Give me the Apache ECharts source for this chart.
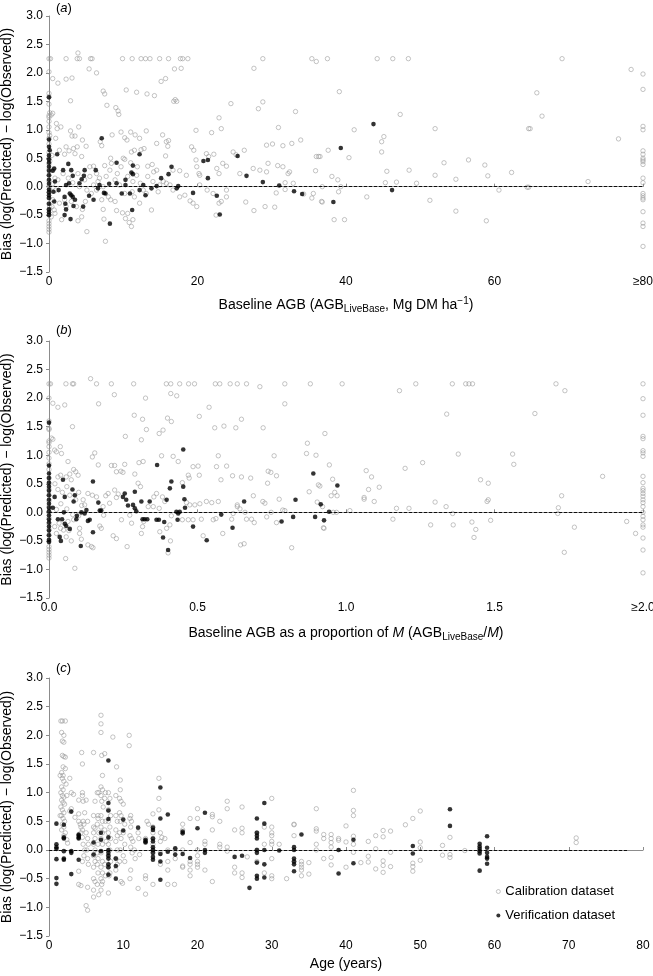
<!DOCTYPE html>
<html><head><meta charset="utf-8">
<script src="https://cdn.jsdelivr.net/npm/echarts@6/dist/echarts.min.js"></script>
<style>html,body{margin:0;padding:0;background:#fff}#c{width:653px;height:976px}</style>
</head><body><div id="c"></div>
<script>
// ---------- tick labels ----------
const yTicks = ['−1.5','−1.0','−0.5','0.0','0.5','1.0','1.5','2.0','2.5','3.0'];
const xTicksA = ['0','20','40','60','≥80'];
const xTicksB = ['0.0','0.5','1.0','1.5','≥2.0'];
const xTicksC = ['0','10','20','30','40','50','60','70','80'];
const seriesNames = ['Calibration dataset','Verification dataset'];

// ---------- (a) Bias vs baseline AGB ----------
const calA = [
[0,2.25],[0.2,2.25],[2.3,2.25],[3.8,2.25],[4.1,2.25],[5.6,2.25],[5.8,2.25],[9.9,2.25],[11.2,2.25],[12.4,2.25],[13,2.25],[13.6,2.25],[14.9,2.25],[16.1,2.25],[17.7,2.25],[18,2.25],[18.7,2.25],[28.8,2.25],[35.4,2.25],[37.5,2.25],[44.2,2.25],[46.3,2.25],[48.4,2.25],[69.1,2.25],
[3.9,2.35],[36,2.2],[0,2.02],[0.5,1.9],[1.2,1.82],[2.3,1.89],[3.1,1.91],[5.4,2.07],[6.4,2.0],[2.9,1.51],[0,1.64],[0,1.58],[7.3,1.68],[7.5,1.63],[7.8,1.43],[9.0,1.39],[9.3,1.33],[9.4,1.27],[10.4,1.70],[11.8,1.66],[13.2,1.63],[14.2,1.6],[15.1,1.85],[15.7,1.9],[16.9,2.07],[17.8,2.08],[16.8,1.5],[17.2,1.5],[17.0,1.53],[22.9,1.21],[24.5,1.46],[27.6,2.08],[28.2,1.37],[28.8,1.49],[33.2,1.32],
[39.1,1.67],[47.3,1.27],[41.1,1.0],[52.0,1.02],[64.6,1.02],[64.8,1.02],[65.7,1.65],[66.4,1.24],[78.4,2.06],[80,1.98],[80,1.71],[80,1.06],[80,1.0],[80,0.63],[80,0.57],[80,0.5],[80,0.47],[80,0.44],[80,0.39],[80,0.15],[80,0.07],[80,-0.12],[80,-0.16],[80,-0.2],[80,-0.23],[80,-0.44],[80,-0.64],[80,-0.7],[80,-1.05],
[37.6,0.64],[36.5,0.53],[40.4,0.51],[44.8,0.79],[45.1,0.88],[44.8,0.61],[45.5,0.27],[45.3,0.07],[46.8,0.08],[48.5,0.29],[49.5,0.06],[38.1,0.18],[38.9,0.12],[39.3,0.0],[39.0,-0.09],[36.8,0],[36.8,-0.27],[42.8,-0.18],[38.4,-0.58],[39.8,-0.58],[51.3,-0.24],[53.2,0.42],[52.0,0.2],[54.8,0.13],[54.8,-0.43],[56.5,0.47],[58.7,0.38],[59.1,0.19],[58.9,-0.6],[60.6,-0.06],[62.3,0.25],[64.4,-0.01],[64.6,-0.01],[72.6,0.09],[76.7,0.84],
[0,1.45],[0,1.25],[0,1.22],[0,1.15],[0,1.05],[0,0.95],[0,0.85],[0,0.75],[0,0.6],[0,0.5],[0,0.4],[0,0.3],[0,0.2],[0,0.1],[0,0.0],[0,-0.1],[0,-0.2],[0,-0.3],[0,-0.4],[0,-0.5],[0,-0.6],[0,-0.65],[0,-0.7],[0,-0.75],[0,-0.8],
[0.1,1.3],[0.1,0.9],[0.1,0.45],[0.1,-0.05],[0.1,-0.35],
[0.3,1.26],[0.5,1.29],[1.0,1.11],[1.1,1.02],[1.6,1.05],[0.9,0.85],[2.9,0.98],[3.1,0.89],[3.5,0.89],[4.0,1.05],[4.5,0.82],[3.8,0.7],[3.3,0.67],[2.3,0.7],[2.7,0.63],[2.1,0.57],[1.4,0.64],[3.5,0.58],[4.4,0.53],[5.0,0.71],[5.5,0.35],[6.0,0.36],[6.4,0.23],[6.8,0.15],[6.9,0.79],[7.1,0.72],[8.5,0.91],[9.7,0.96],[10.2,0.86],[10.5,0.82],[11.0,0.96],[11.6,0.91],[12.2,0.85],[12.4,0.65],[12.8,0.67],[13.1,0.98],[11.1,0.61],[11.5,0.64],[8.3,0.5],[8.4,0.41],[7.5,0.37],[10.0,0.5],[10.2,0.48],[11.0,0.42],[11.9,0.35],[13.3,0.36],[13.9,0.39],[14.1,0.26],[14.5,0.76],[15.3,0.91],[15.8,0.79],[16.0,0.71],[15.7,0.54],[16.1,0.81],[16.7,0.29],[17.6,0.28],[18.5,0.2],[19.8,0.99],[19.2,0.7],[19.5,0.64],[19.8,0.47],[19.9,0.35],[20.2,0.23],[20.3,0.2],[21.2,0.58],[21.5,0.53],[21.9,0.95],[22.2,0.57],[22.6,0.32],[22.9,0.23],[23.2,1.02],[23.4,0.41],[23.9,0.36],[24.8,0.61],[25.2,0.56],[25.7,0.23],[26.3,0.64],[27.5,0.32],[28.4,0.29],[29.3,0.26],[29.5,0.41],[29.3,0.73],[30.1,0.75],[30.9,1.04],[31.5,0.72],[32.7,0.76],[33.9,0.82],[30.8,0.37],[31.5,0.35],[32.2,0.23],[32.4,0.26],[31.8,0.07],[32.9,0.06],[36.0,0.53],[36.3,0.53],[35.9,0.28],
[1.7,-0.58],[0.8,-0.47],[1.4,-0.29],[2.3,-0.35],[2.1,-0.23],[3.0,-0.26],[3.7,-0.35],[3.9,-0.6],[4.4,-0.53],[4.5,-0.4],[4.9,-0.26],[5.1,-0.79],[5.7,-0.12],[6.4,-0.06],[7.1,-0.23],[7.3,-0.4],[8.0,-0.18],[8.3,-0.23],[8.9,-0.26],[9.1,-0.42],[9.9,-0.46],[10.3,-0.56],[10.6,-0.47],[10.8,-0.63],[11.1,-0.7],[11.3,-0.58],[7.6,-0.96],[7.4,-0.57],[8.9,0.12],[9.5,0.03],[10.2,-0.12],[11.2,-0.09],[11.5,-0.18],[12.2,-0.29],[12.7,-0.06],[13.1,-0.12],[13.8,-0.41],[14.7,-0.09],[14.9,0.03],[15.4,0.09],[16.7,-0.06],[17.6,-0.18],[18.3,-0.15],[19.0,-0.25],[19.4,-0.29],[19.9,-0.35],[20.3,0.03],[21.3,-0.06],[22.1,-0.12],[22.5,-0.5],[22.9,-0.29],[23.2,-0.26],[23.9,-0.06],[23.9,-0.18],[26.5,-0.27],[27.6,-0.42],[29.1,-0.35],[30.4,-0.36],[30.6,-0.11],[31.8,-0.05],[34.3,-0.13],[35.4,-0.2],[35.6,-0.12],[36.7,-0.26],
[1.2,0.12],[1.9,0.23],[2.6,0.15],[3.2,0.07],[3.9,0.23],[4.1,0.0],[4.8,0.12],[5.1,-0.06],[5.5,0.18],[6.0,0.03],[6.6,0.09],[7.3,0.0],[7.7,0.18],[8.2,0.29],[9.2,0.23],[9.7,0.35],[10.6,0.18],[11.3,0.09],[11.8,0.2],[12.3,0.06],[13.3,0.18],[14.0,0.09],[14.5,0.29],[15.8,0.06],[16.3,0.03],[0.9,-0.06],[0.5,-0.23],[0.4,-0.35],[0.7,-0.41],[0.3,-0.53],[0.6,0.3],[0.4,0.55],[0.8,0.15],[0.5,0.05]
];
const verA = [
[0,1.57],[1.1,0.57],[0,0.83],[0,0.7],[0.1,0.64],[0,0.55],[0,0.48],[0,0.42],[0,0.35],[0,0.28],[0,0.2],[0,0.12],[0,0.05],[0,-0.05],[0,-0.1],[0,-0.15],[0,-0.2],[0,-0.3],[0,-0.4],[0,-0.45],[0,-0.5],[0.7,0.32],[0.5,0.28],[0.8,0.09],[0.6,-0.09],[0.7,-0.26],[1.3,-0.06],[1.9,0.29],[2.6,0.4],[3.0,0.29],[3.2,0.19],[2.3,0.03],[2.7,0.06],[2.1,-0.18],[2.2,-0.3],[2.3,-0.4],[2.1,-0.5],[2.8,-0.12],[3.0,-0.15],[3.2,-0.18],[3.5,-0.23],[3.3,-0.34],[2.9,-0.57],[4.1,0.06],[4.4,0.13],[4.7,0.19],[4.8,0.29],[4.6,-0.35],[5.4,-0.16],[6.0,-0.23],[6.3,0.29],[6.6,-0.03],[7.1,0.85],[6.8,0.03],[7.4,-0.11],[7.6,-0.12],[8.1,0.05],[8.2,-0.65],[9.1,0.42],[9.1,0.06],[9.8,-0.12],[10.3,0.03],[10.3,0.12],[11.1,0.25],[11.3,0.22],[11.2,-0.41],[11.3,0.37],[10.9,-0.12],[12.2,0.57],[12.2,-0.06],[12.7,0.03],[13.0,-0.15],[13.8,-0.03],[14.5,0.01],[15.1,0.15],[16.1,0.22],[16.5,0.35],[17.2,-0.03],[17.4,0.01],[19.4,-0.11],[20.8,0.45],[21.4,0.47],[21.4,0.15],[22.6,-0.16],[23.0,-0.49],[25.4,0.54],[26.6,0.19],[28.8,0.08],[31.0,0.02],[33.0,-0.08],[34.1,-0.13],[38.3,-0.27],[39.3,0.68],[43.7,1.10],[46.2,-0.06]
];

// ---------- (b) Bias vs AGB as proportion of M ----------
const calB = [
[0,2.25],[0.005,2.25],[0.057,2.25],[0.079,2.25],[0.083,2.25],[0.16,2.25],[0.21,2.25],[0.285,2.25],[0.395,2.25],[0.41,2.25],[0.44,2.25],[0.47,2.25],[0.49,2.25],[0.56,2.25],[0.575,2.25],[0.61,2.25],[0.634,2.25],[0.665,2.25],[0.794,2.25],[0.88,2.25],[0.987,2.25],[1.235,2.25],[1.358,2.25],[1.403,2.25],[1.414,2.25],[1.426,2.25],[1.707,2.25],[2.0,2.25],
[0.14,2.34],[0.71,2.2],[0.22,2.06],[0.41,2.08],[0.43,2.04],[0.325,2.0],[0.167,1.9],[0.794,1.9],[0.013,1.91],[0.03,1.84],[0.053,1.88],
[0.079,1.5],[0,1.47],[0,1.6],[0,2.0],[0.008,1.3],[0.013,1.28],[0.019,1.09],[0.025,1.06],[0.038,1.15],[0.042,1.03],[0.064,0.89],[0.058,0.62],[0.07,0.67],[0.083,0.75],[0.09,0.71],[0.098,0.65],[0.075,0.57],[0.03,0.62],[0.039,0.65],[0.146,0.97],[0.154,1.04],[0.166,0.83],[0.21,0.82],[0.221,0.82],[0.227,0.71],[0.242,0.72],[0.249,0.7],[0.255,0.84],[0.289,0.67],[0.303,0.87],[0.317,0.89],[0.287,1.7],[0.315,1.63],[0.328,1.45],[0.311,1.27],[0.257,1.33],[0.371,1.38],[0.384,1.44],[0.399,1.65],[0.412,1.59],[0.379,0.99],[0.418,0.98],[0.435,0.89],[0.449,0.52],[0.469,0.65],[0.472,0.6],[0.485,0.8],[0.502,0.81],[0.506,0.65],[0.539,1.84],[0.506,1.68],[0.558,1.48],[0.589,1.51],[0.629,1.48],[0.648,1.63],[0.721,1.48],[0.57,0.99],[0.598,0.81],[0.564,0.8],[0.579,0.57],[0.618,0.64],[0.648,0.62],[0.679,0.6],[0.738,0.72],[0.747,0.7],[0.736,0.51],[0.766,0.64],[0.758,0.99],[0.87,1.21],[0.867,1.03],[0.899,1.0],[0.929,1.38],[0.876,0.36],[0.907,0.48],[0.912,0.46],[0.944,0.83],
[1.18,2.13],[1.339,1.72],[1.636,1.73],[1.737,2.13],[1.378,1.02],[1.561,1.02],[1.565,0.84],[1.199,0.77],[1.258,0.87],[0.955,0.58],[1.068,0.73],[1.086,0.62],[1.076,0.4],[1.112,0.44],[1.061,0.26],[1.061,0.23],[1.095,0.19],[0.962,0.35],[0.95,0.29],[0.97,0.29],[0.957,0],[0.968,0],[1.013,0.03],[1.17,0.07],[1.212,0.07],[1.3,0.18],[1.337,0.1],[1.359,-0.02],[1.158,-0.12],[1.285,-0.22],[1.361,-0.22],[1.424,-0.17],[1.437,-0.3],[1.431,-0.44],[1.453,0.57],[1.479,0.51],[1.479,0.22],[1.475,0.19],[1.487,-0.14],[1.726,0.29],[1.715,0.08],[1.713,-0.02],[1.735,-0.7],[1.769,-0.26],[1.864,0.63],[1.945,-0.16],[1.975,-0.37],[0.926,-0.28],
[2,1.99],[2,1.7],[2,1.33],[2,1.29],[2,1.08],[2,1.04],[2,0.98],[2,0.63],[2,0.52],[2,0.42],[2,0.38],[2,0.33],[2,0.28],[2,0.22],[2,0.17],[2,0.1],[2,0.0],[2,-0.07],[2,-0.13],[2,-0.22],[2,-0.26],[2,-0.45],[2,-0.66],[2,-1.06],
[0.115,0.22],[0.12,0.13],[0.131,0.33],[0.146,0.3],[0.16,0.27],[0.182,0.1],[0.184,-0.05],[0.191,0.29],[0.199,0.33],[0.204,0.16],[0.221,0.39],[0.227,0.26],[0.233,0.32],[0.244,-0.13],[0.272,-0.05],[0.278,-0.19],[0.3,0.51],[0.308,0.45],[0.319,-0.16],[0.315,-0.25],[0.311,-0.37],[0.334,0.1],[0.351,0.1],[0.353,0.27],[0.362,0.33],[0.382,0.27],[0.39,0.19],[0.371,0.07],[0.373,-0.34],[0.396,-0.28],[0.407,-0.22],[0.401,-0.71],[0.409,-0.5],[0.412,-0.06],[0.449,-0.13],[0.463,0.17],[0.474,0.13],[0.491,0.13],[0.508,0.15],[0.513,-0.12],[0.519,-0.41],[0.469,-0.13],[0.485,-0.13],[0.53,0.19],[0.548,0.17],[0.57,0.19],[0.553,-0.13],[0.562,-0.11],[0.585,-0.37],[0.615,-0.12],[0.62,-0.02],[0.634,0.13],[0.634,0.1],[0.643,0.06],[0.66,0],[0.665,-0.12],[0.645,-0.57],[0.657,-0.55],[0.682,-0.12],[0.691,-0.18],[0.688,0.29],[0.72,0.19],[0.727,0.16],[0.733,-0.08],[0.748,0],[0.766,-0.18],[0.787,0.04],[0.794,0.03],[0.775,0.23],[0.817,-0.62],[0.903,0.18],[0.921,0.1],[0.924,-0.27],
[0.019,-0.25],[0.025,-0.37],[0.034,-0.19],[0.039,-0.28],[0.049,-0.31],[0.058,-0.43],[0.067,-0.32],[0.056,-0.81],[0.087,-0.98],[0.075,-0.5],[0.064,-0.16],[0.083,-0.13],[0.103,-0.37],[0.109,-0.47],[0.103,-0.28],[0.131,-0.57],[0.143,-0.6],[0.148,-0.62],[0.171,-0.24],[0.176,-0.28],[0.216,-0.41],[0.227,-0.46],[0.263,-0.6],
[0.02,0.5],[0.03,0.4],[0.045,0.35],[0.06,0.45],[0.07,0.3],[0.09,0.22],[0.1,0.35],[0.11,0.12],[0.04,0.15],[0.025,0.05],[0.06,0.06],[0.08,-0.04],[0.1,-0.06],
[0,1.45],[0,1.25],[0,1.22],[0,1.15],[0,1.05],[0,0.95],[0,0.85],[0,0.75],[0,0.6],[0,0.5],[0,0.4],[0,0.3],[0,0.2],[0,0.1],[0,0.0],[0,-0.1],[0,-0.2],[0,-0.3],[0,-0.4],[0,-0.5],[0,-0.6],[0,-0.65],[0,-0.7],[0,-0.75],[0,-0.8]
];
const verB = [
[0,1.57],[0,0.82],[0,0.68],[0,0.6],[0,0.52],[0,0.45],[0,0.38],[0,0.3],[0,0.22],[0,0.15],[0,0.08],[0,0.02],[0,-0.05],[0,-0.12],[0,-0.18],[0,-0.25],[0,-0.32],[0,-0.4],[0,-0.48],[0,-0.52],
[0.019,0.27],[0.013,0.08],[0.03,-0.12],[0.036,-0.43],[0.04,-0.5],[0.047,0.57],[0.053,0.27],[0.05,0],[0.044,-0.12],[0.053,-0.2],[0.058,-0.24],[0.07,-0.29],[0.079,0.4],[0.087,0.3],[0.083,0.19],[0.094,-0.06],[0.092,-0.12],[0.109,0],[0.107,-0.59],[0.12,-0.02],[0.126,0.04],[0.131,-0.15],[0.137,-0.13],[0.148,0.54],[0.148,-0.35],[0.166,0.17],[0.171,0.03],[0.176,0.03],[0.249,0.27],[0.255,0.33],[0.26,0.22],[0.266,0.12],[0.283,0.13],[0.289,0.07],[0.294,0.02],[0.289,0.36],[0.315,-0.12],[0.322,-0.12],[0.331,-0.12],[0.311,0.19],[0.339,0.19],[0.364,0.83],[0.362,-0.13],[0.37,-0.13],[0.384,-0.44],[0.388,-0.17],[0.401,-0.66],[0.407,0.42],[0.412,0.54],[0.396,0.22],[0.429,0.01],[0.433,-0.13],[0.435,-0.02],[0.44,0.01],[0.452,1.1],[0.452,0.45],[0.456,0.23],[0.458,0.08],[0.485,-0.25],[0.531,-0.49],[0.58,-0.04],[0.618,-0.27],[0.657,0.19],[0.783,-0.16],[0.822,-0.08],[0.83,0.22],[0.89,0.68],[0.896,-0.08],[0.915,0.14],[0.926,-0.14],[0.943,0.01],[0.971,0.47]
];

// ---------- (c) Bias vs age ----------
const calC = [
[1.6,2.25],[1.8,2.25],[2.2,2.25],[1.7,2.05],[2.0,2.0],[1.8,1.9],[2.0,1.88],[1.8,1.65],[2.0,1.63],[2.2,1.62],[1.9,1.45],[2.2,1.42],[1.7,1.35],[1.9,1.3],[1.8,1.25],[2.0,1.2],[1.7,1.1],[1.9,1.05],[1.6,1.0],[1.8,0.95],[2.0,0.92],[1.7,0.87],[1.9,0.83],[2.1,0.8],[1.6,0.75],[1.8,0.7],[2.0,0.65],[1.7,0.6],[1.9,0.55],[2.1,0.5],[1.8,0.45],[2.0,0.4],[1.7,0.35],[2.2,0.3],[2.0,0.25],[2.4,0.18],[2.5,0.12],[1.5,1.3],[2.3,1.15],[2.4,0.95],[1.5,0.6],
[2.8,1.25],[3.0,1.0],[3.3,0.97],[3.0,0.72],[2.8,0.68],[3.5,0.57],
[4,0.87],[4,0.63],[4,0.5],[4.2,0.45],[4.3,0.4],[4.5,0.35],[4.3,0.3],[4,-0.37],[4,-0.6],[4.3,-0.62],[4.4,1.7],[4.5,1.5],[4.5,1.0],[4.5,0.95],[4.6,0.85],[4.8,0.65],[4.6,0.5],[4.7,0.45],[4.5,0.22],[4.6,0.1],[4.8,0.0],[4.7,-0.1],[4.5,-0.2],
[5,0.87],[5.2,0.5],[5,0.3],[5.2,0.2],[5.3,0.1],[5.1,0.0],[5.2,-0.15],[5.3,-0.25],[5.2,-0.65],[5,-0.97],[5.2,-1.05],
[6,1.7],[6.2,0.85],[6,0.6],[6,0.4],[6.2,0.38],[6,0.3],[6.2,0.2],[6,0.1],[6.2,0.0],[6,-0.1],[6.2,-0.2],[6,-0.3],[6,-0.5],[6.2,-0.55],[6,-0.7],[6,-0.82],
[6.5,1.0],[6.7,1.0],[6.6,0.6],[6.6,0.55],[6.5,0.45],[6.7,0.3],[6.6,0.1],[6.5,-0.05],[6.6,-0.15],[6.5,-0.25],[6.6,-0.4],[6.5,-0.6],[6.7,-0.78],
[7,2.35],[7,2.2],[7,2.05],[7.1,1.65],[7.2,1.3],[7,1.1],[7.2,1.05],[7,0.95],[7.1,0.85],[7.3,0.75],[7,0.6],[7.2,0.5],[7,0.4],[7.2,0.3],[7,0.2],[7.2,0.1],[7,-0.05],[7.2,-0.2],[7,-0.3],[7.2,-0.4],[7,-0.5],[7.2,-0.55],[7.1,-0.6],[7,-0.7],
[7.5,1.68],[7.6,1.0],[7.5,0.9],[7.6,0.5],[7.5,0.35],[7.7,0.15],[7.5,-0.25],[7.6,-0.45],
[8.6,1.97],[8,1.0],[8.2,0.9],[8,0.7],[8.3,0.6],[8,0.5],[8.2,0.4],[8,0.3],[8.3,0.2],[8,0.1],[8.2,0.0],[8,-0.1],[8.3,-0.2],[8,-0.3],[8.2,-0.4],[8.1,-0.45],[8,-0.75],
[9.1,1.45],[9,0.95],[9,0.6],[9.2,0.5],[9,0.35],[9.2,0.25],[9,0.15],[9.2,0.0],[9,-0.15],[9.2,-0.25],[9,-0.35],
[9.6,1.22],[9.6,1.05],[9.5,0.9],[9.7,0.85],[9.5,0.65],[9.7,0.6],[9.6,0.5],[9.5,0.3],[9.7,0.2],[9.6,0.0],[9.5,-0.2],[9.7,-0.55],[9.9,-0.58],[10,0.8],[10.2,0.45],[10,0.3],[10.2,0.1],[10,-0.1],[10.2,-0.2],
[10.8,2.0],[10.8,1.82],[11,0.6],[10.9,0.55],[11.1,0.5],[11,0.4],[10.9,0.25],[11.1,0.2],[11.3,0.15],[11,0.05],[11.5,0.0],[11.2,-0.05],[11.6,-0.15],[11,-0.35],[10.9,-0.5],
[12,0.3],[12.1,0.2],[12.2,-0.08],[12,-0.67],
[13.2,0.5],[13.4,0.45],[13,0.2],[13,-0.45],[13,-0.5],[13,-0.77],
[14,0.63],[14,0.4],[14,0.3],[14,0.2],[14,0.1],[14,0.0],[14,-0.05],[14,-0.6],
[14.8,1.25],[14.8,0.9],[14.8,0.7],[15,0.3],[15.2,0.22],[15,0.15],[15,-0.05],[15,-0.25],
[15.6,0.2],[16,0.0],[16,-0.2],[16,-0.35],[16,-0.6],
[17,0.0],[17,-0.15],[16.9,-0.6],
[18,0.45],[18,0.35],[18,0.0],[18,-0.28],[18,-0.3],
[19,0.55],[19,0.13],[19,-0.2],[19,-0.25],[19,-0.35],[19,-0.45],
[20,0.72],[20,0.55],[20,0.0],[20,-0.1],[20,-0.2],[20,-0.25],[20,-0.3],
[21,0.15],[21,0.1],[21,-0.35],
[22,0.62],[22,0.58],[22,0.35],[22,-0.55],
[23,0.5],[23,0.1],[23,0.05],
[24,0.85],[24,0.72],[24,0.05],[24,-0.02],
[25,0.35],[25,-0.3],[25,-0.4],
[26,0.75],[26,0.38],[26,0.3],[26,-0.4],[26,-0.48],
[26.7,-0.12],
[28,0.3],[28,0.0],[28,-0.2],
[29,0.4],[29,0.1],[29,-0.4],
[30,0.9],[30,0.4],[30,0.3],[30,0.25],[30,0.15],[30,0.1],[30,-0.15],[30,-0.45],[30,-0.5],
[31,0.1],[32,-0.5],
[33,0.45],[33,0.44],[33,0.25],[33,-0.2],
[34,-0.2],[34,-0.25],[34,-0.3],[34,-0.35],[34,-0.45],
[35,-0.42],[35,-0.22],
[36,0.72],[36,0.37],[36,0.33],[36,0.1],[36,0.0],
[37,0.27],[37,0.2],[37,-0.15],
[38,0.27],[38,0.2],[38,0.13],[38,0.05],[38,-0.13],[38,-0.26],
[39,0.2],[39,0.17],[40,0.42],[40,0.14],[40,-0.3],[41,1.04],[41,0.69],[41,0.6],[41,0.24],[41,0.1],[41,-0.04],[42,-0.22],[43,0.15],[43,-0.11],[43,-0.21],[44,0.25],[44,0.02],[44,-0.33],[45,0.34],[45,0.23],[45,-0.19],[45,-0.27],[45,-0.39],[46,0.33],[46,-0.04],[46,-0.29],[48,0.44],[49,0.55],[49,-0.23],[49,-0.29],[49,-0.37],[50,0.68],[50,0.14],[50,0.04],[50,-0.18],[53,0.08],[53,-0.09],[54,0.22],[54,-0.08],[54,-0.13],[56,-0.01],[71,0.21],[71,0.13]
];
const verC = [
[1,0.46],[1,0.1],[1,0.05],[1,0.02],[1,-0.16],[1,-0.49],[1,-0.59],
[2,0.44],[2,0.22],[2,0.2],[2,-0.02],[2,-0.15],[2,-0.17],
[3,0.67],[3,-0.02],[3,-0.05],[3,-0.42],
[4,0.27],[4,0.25],[4,0.22],[4,0.2],[4,-0.17],
[6,0.13],[6,-0.08],[7,0.3],[7,0.18],[7,-0.02],
[8,1.56],[8,0.82],[8,0.69],[8,0.54],[8,0.22],[8,0.0],[8,-0.05],[8,-0.1],[8,-0.15],[8,-0.25],[8,-0.3],[8,-0.43],
[9,-0.15],[9,-0.28],[9,-0.5],[10,0.53],[10,0.34],[12,0.39],
[13,0.18],[13,0.15],[13,0.13],
[14,0.39],[14,0.35],[14,0.2],[14,0.15],[14,0.05],[14,0.0],[14,-0.05],[14,-0.12],[14,-0.17],
[15,1.09],[15,0.55],[15,-0.07],[15,-0.2],[15,-0.52],
[16,0.62],[16,-0.03],[17,0.03],[17,-0.08],[18,0.32],[18,0.29],[18,-0.07],[19,-0.14],[20,0.38],
[21,0.65],[21,0.0],[21,-0.05],[25,-0.12],[26,-0.1],[27,-0.66],
[28,0.55],[28,0.3],[28,0.25],[28,0.2],[28,0.0],[28,-0.05],[28,-0.22],[28,-0.45],[28,-0.5],
[29,0.82],[29,0.46],[29,0.0],[29,-0.25],[29,-0.48],[31,-0.01],
[33,0.05],[33,0.0],[33,-0.15],[33,-0.2],[33,-0.25],[33,-0.37],[34,0.27],
[39,0.0],[39,-0.41],[41,0.18],[41,-0.23],[49,0.07],[49,-0.06],[54,0.71],[54,0.42],
[58,0.11],[58,0.06],[58,0.02],[58,-0.02],[58,-0.06],[58,-0.36],[59,0.24],[59,0.04],[59,-0.05],[59,-0.12],[59,-0.15],[59,-0.24]
];

// ---------- chart ----------
const FONT = 'Liberation Sans, Arial, Helvetica, sans-serif';
const AX = '#8c8c8c';
const grids = [
  {left: 49, width: 594, top: 16, height: 256, containLabel: false, outerBoundsMode: 'none'},
  {left: 49, width: 594, top: 341, height: 257, containLabel: false, outerBoundsMode: 'none'},
  {left: 49, width: 594, top: 678, height: 258, containLabel: false, outerBoundsMode: 'none'}
];
const rich = {
  t: {fontSize: 14, fontFamily: FONT, color: '#000', lineHeight: 18},
  i: {fontSize: 14, fontFamily: FONT, color: '#000', lineHeight: 18, fontStyle: 'italic'},
  s: {fontSize: 10, fontFamily: FONT, color: '#000', lineHeight: 10, verticalAlign: 'bottom', padding: [9, 0, 0, 0]},
  p: {fontSize: 10, fontFamily: FONT, color: '#000', lineHeight: 10, verticalAlign: 'top', padding: [0, 0, 8, 0]}
};
const xNames = [
  '{t|Baseline AGB (AGB}{s|LiveBase}{t|, Mg DM ha}{p|−1}{t|)}',
  '{t|Baseline AGB as a proportion of }{i|M}{t| (AGB}{s|LiveBase}{t|/}{i|M}{t|)}',
  '{t|Age (years)}'
];
const xCfg = [
  {max: 80, interval: 20, ticks: xTicksA, gap: 24},
  {max: 2, interval: 0.5, ticks: xTicksB, gap: 26},
  {max: 80, interval: 10, ticks: xTicksC, gap: 19}
];
const xAxis = xCfg.map((c, k) => ({
  gridIndex: k, type: 'value', min: 0, max: c.max, interval: c.interval,
  name: xNames[k], nameLocation: 'middle', nameGap: c.gap,
  nameTextStyle: {rich: rich},
  axisLine: {lineStyle: {color: AX, width: 1}},
  axisTick: {inside: true, length: 3, lineStyle: {color: AX}},
  axisLabel: {margin: 4, fontSize: 12, fontFamily: FONT, color: '#000',
    formatter: (v) => c.ticks[Math.round(v / c.interval)]},
  splitLine: {show: false}
}));
const yAxis = [0, 1, 2].map(k => ({
  gridIndex: k, type: 'value', min: -1.5, max: 3, interval: 0.5,
  name: 'Bias (log(Predicted) − log(Observed))', nameLocation: 'middle', nameGap: 35,
  nameMoveOverlap: false,
  nameTextStyle: {fontSize: 14, fontFamily: FONT, color: '#000'},
  axisLine: {show: true, lineStyle: {color: AX, width: 1}},
  axisTick: {show: true, inside: false, length: 3, lineStyle: {color: AX}},
  axisLabel: {margin: 6, fontSize: 12, fontFamily: FONT, color: '#000',
    formatter: (v) => yTicks[Math.round((v + 1.5) / 0.5)]},
  splitLine: {show: false}
}));
const zeroEnd = [80, 2, 78];
const data = [[calA, verA], [calB, verB], [calC, verC]];
const series = [];
data.forEach((d, k) => {
  series.push({
    name: seriesNames[0], type: 'scatter', xAxisIndex: k, yAxisIndex: k, data: d[0],
    symbol: 'circle', symbolSize: 4.4, clip: false, silent: true,
    itemStyle: {color: 'rgba(255,255,255,0)', borderColor: '#959595', borderWidth: 0.7},
    markLine: {silent: true, symbol: ['none', 'none'], label: {show: false},
      lineStyle: {color: '#000', type: [3, 2], width: 0.9},
      data: [[{coord: [0, 0]}, {coord: [zeroEnd[k], 0]}]]}
  });
  series.push({
    name: seriesNames[1], type: 'scatter', xAxisIndex: k, yAxisIndex: k, data: d[1],
    symbol: 'circle', symbolSize: 4.6, clip: false, silent: true,
    itemStyle: {color: '#000'}
  });
});
const panelLabels = ['a', 'b', 'c'];
const labelTops = [2, 324, 662];
const chart = echarts.init(document.getElementById('c'), null, {renderer: 'canvas'});
chart.setOption({
  animation: false,
  backgroundColor: '#fff',
  grid: grids,
  xAxis: xAxis,
  yAxis: yAxis,
  series: series,
  legend: {
    data: [
      {name: seriesNames[0], itemStyle: {color: 'rgba(255,255,255,0)', borderColor: '#959595', borderWidth: 0.7}},
      {name: seriesNames[1], itemStyle: {color: '#000', borderWidth: 0}}
    ],
    orient: 'vertical', left: 491, top: 880,
    itemWidth: 4, itemHeight: 4, itemGap: 11,
    textStyle: {fontSize: 13, fontFamily: FONT, color: '#000'}
  },
  graphic: panelLabels.map((p, k) => ({
    type: 'text', left: 56, top: labelTops[k],
    style: {text: '{t|(}{i|' + p + '}{t|)}', rich: {
      t: {fontSize: 13, fontFamily: FONT, fill: '#000'},
      i: {fontSize: 13, fontFamily: FONT, fill: '#000', fontStyle: 'italic'}}}
  }))
});
</script></body></html>
